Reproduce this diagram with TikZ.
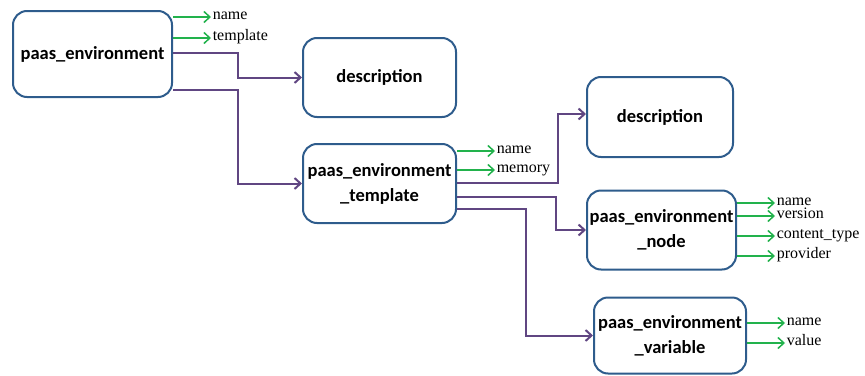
\documentclass[tikz,border=0pt]{standalone}
\usepackage{fontspec}
\usepackage{xcolor}
\usetikzlibrary{arrows.meta,calc}
\setmainfont{Liberation Serif}
\newfontfamily\boxfont{Carlito}

\definecolor{boxblue}{RGB}{46,92,140}
\definecolor{relpurple}{RGB}{96,70,130}
\definecolor{attrgreen}{RGB}{34,178,76}

\begin{document}
\begin{tikzpicture}[x=1pt, y=-1pt,
	entity/.style={draw=boxblue, line width=2pt, rounded corners=14pt, align=center,
		font=\boxfont\fontsize{18.5}{25}\selectfont\bfseries, inner sep=0pt},
	rel/.style={draw=relpurple, line width=2pt, -{Straight Barb[length=6pt,width=11pt]}},
	attr/.style={draw=attrgreen, line width=1.5pt, -{Straight Barb[length=6pt,width=11pt]}},
	lbl/.style={anchor=base west, inner sep=1pt, yshift=-2pt, font=\fontsize{16}{16}\selectfont}]
				\useasboundingbox (0,0) rectangle (865,375);
				
				\node[entity, minimum width=159pt, minimum height=86pt] (env) at (92.5,54) {paas\_environment};
				\node[entity, minimum width=153pt, minimum height=79pt] (desc1) at (379.5,77.5) {description};
				\node[entity, minimum width=153pt, minimum height=79pt] (tmpl) at (379.5,183.5) {paas\_environment\\\_template};
				\node[entity, minimum width=146pt, minimum height=80pt] (desc2) at (660,117) {description};
				\node[entity, minimum width=149pt, minimum height=79pt] (envnode) at (661.5,230) {paas\_environment\\\_node};
				\node[entity, minimum width=152pt, minimum height=76pt] (var) at (670,335.5) {paas\_environment\\\_variable};
				
				\draw[rel] (env.east |- 0,53) -- ++(65,0) |- (desc1.west);
				\draw[rel] (env.east |- 0,90) -- ++(65,0) |- (tmpl.west);
				\draw[rel] (tmpl.east |- 0,183) -- ++(101,0) |- ($(desc2.west)+(0,-3)$);
				\draw[rel] (tmpl.east |- 0,197) -- ++(99,0) |- (envnode.west);
				\draw[rel] (tmpl.east |- 0,209) -- ++(69,0) |- (var.west);
				
				\foreach \y/\t in {17/name, 38/template}
					\draw[attr] (env.east |- 0,\y) -- ++(38,0) node[lbl] {\t};
				\foreach \y/\t in {151/name, 170/memory}
					\draw[attr] (tmpl.east |- 0,\y) -- ++(38,0) node[lbl] {\t};
				\foreach \y/\t in {203/name, 216/version, 236/content\_type, 256/provider}
					\draw[attr] (envnode.east |- 0,\y) -- ++(38,0) node[lbl] {\t};
				\foreach \y/\t in {323/name, 343/value}
					\draw[attr] (var.east |- 0,\y) -- ++(38,0) node[lbl] {\t};
			\end{tikzpicture}
\end{document}
